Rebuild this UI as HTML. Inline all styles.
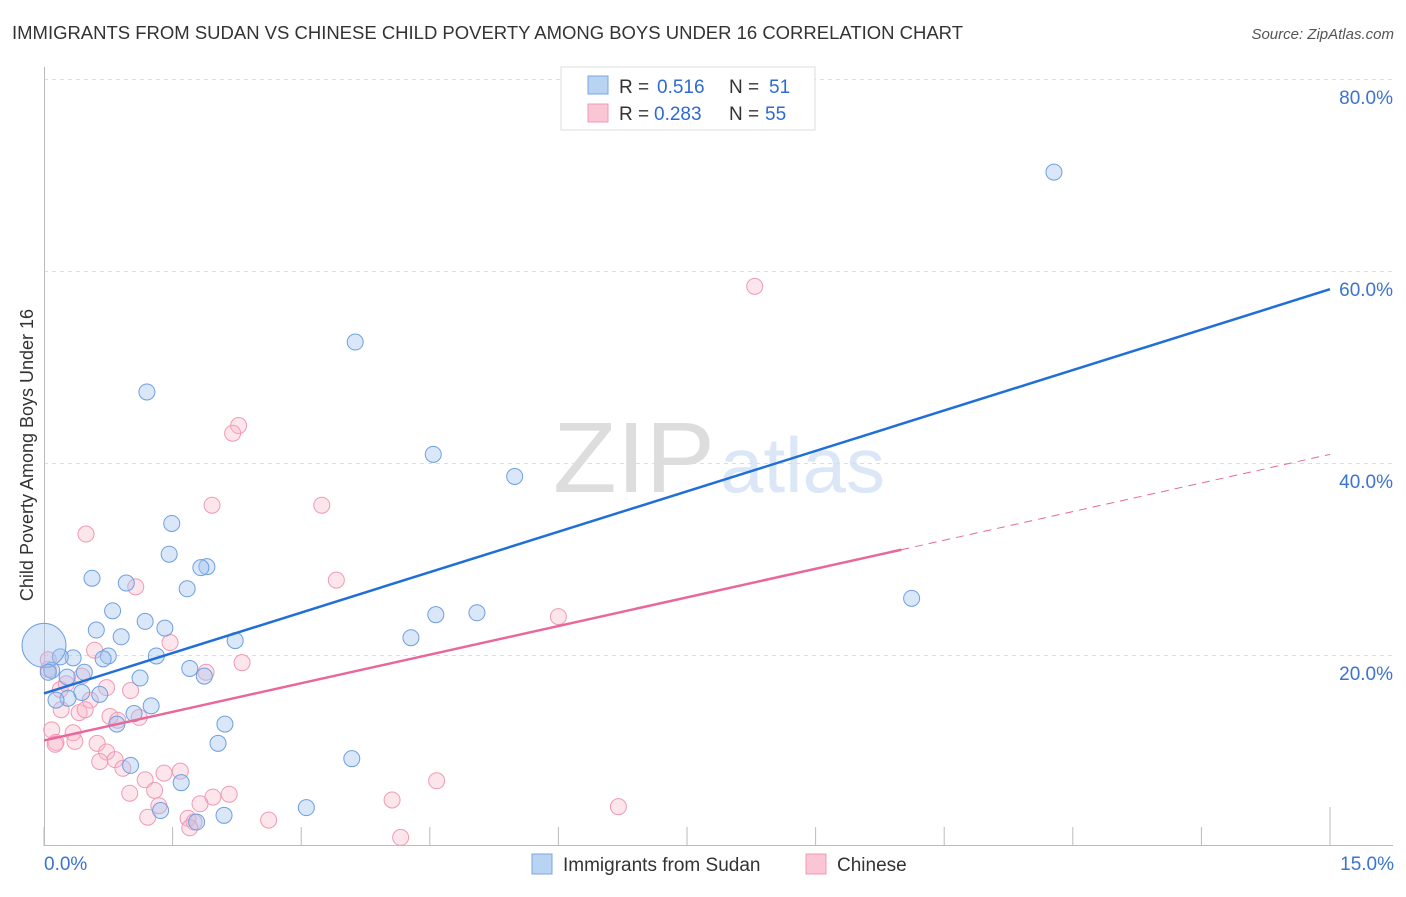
<!DOCTYPE html>
<html><head><meta charset="utf-8"><style>
body{margin:0;background:#fff;font-family:"Liberation Sans",sans-serif}
svg text{font-family:"Liberation Sans",sans-serif}
</style></head><body>
<svg id="chart" width="1406" height="892" xmlns="http://www.w3.org/2000/svg">
<text x="12" y="39" font-size="18" fill="#333" textLength="951" lengthAdjust="spacingAndGlyphs">IMMIGRANTS FROM SUDAN VS CHINESE CHILD POVERTY AMONG BOYS UNDER 16 CORRELATION CHART</text>
<text x="1394" y="39" font-size="15" fill="#555" font-style="italic" text-anchor="end">Source: ZipAtlas.com</text>
<text x="553" y="492" font-size="100" fill="#ddd" font-family="Liberation Serif" textLength="162" lengthAdjust="spacingAndGlyphs">ZIP</text>
<text x="720" y="492" font-size="78" fill="#dbe7f6" textLength="165" lengthAdjust="spacingAndGlyphs">atlas</text>
<text transform="translate(33,455) rotate(-90)" font-size="18" fill="#333" text-anchor="middle">Child Poverty Among Boys Under 16</text>
<g id="grid"></g><g id="pts"></g><g id="lines"></g>
<g>
<rect x="561" y="67" width="254" height="63" fill="#fff" stroke="#ddd"/>
<rect x="588" y="76" width="20" height="18" fill="#b9d3f3" stroke="#7aa6e0"/>
<rect x="588" y="104" width="20" height="18" fill="#fac5d5" stroke="#f09ab5"/>
<text y="93" font-size="19" fill="#333"><tspan x="619">R =</tspan><tspan x="657" fill="#2d6bd0">0.516</tspan><tspan x="729">N =</tspan><tspan x="769" fill="#2d6bd0">51</tspan></text>
<text y="120" font-size="19" fill="#333"><tspan x="619">R =</tspan><tspan x="654" fill="#2d6bd0">0.283</tspan><tspan x="729">N =</tspan><tspan x="765" fill="#2d6bd0">55</tspan></text>
</g>
<g>
<rect x="532" y="854" width="20" height="20" fill="#b9d3f3" stroke="#7aa6e0"/>
<text x="563" y="871" font-size="19" fill="#333">Immigrants from Sudan</text>
<rect x="806" y="854" width="20" height="20" fill="#fac5d5" stroke="#f09ab5"/>
<text x="837" y="871" font-size="19" fill="#333">Chinese</text>
</g>
<text x="44" y="870" font-size="19" fill="#3a73d0">0.0%</text>
<text x="1394" y="870" font-size="19" fill="#3a73d0" text-anchor="end">15.0%</text>
</svg>
<script>
const blueX=[1.20,3.63,4.54,5.49,1.49,1.46,0.56,0.96,1.90,1.83,1.67,0.80,1.18,1.41,0.61,0.90,2.23,4.28,4.57,5.05,10.12,11.78,1.31,0.75,0.69,0.34,0.19,1.70,1.12,0.47,0.27,0.09,1.87,0.44,0.65,0.28,0.14,1.25,1.05,0.85,2.11,2.03,1.01,3.59,1.60,3.06,2.10,1.36,1.78,0.0,0.05];
const blueY=[47.4,52.6,40.9,38.6,33.7,30.5,28.0,27.5,29.2,29.1,26.9,24.6,23.5,22.8,22.6,21.9,21.5,21.8,24.2,24.4,25.9,70.3,19.9,19.9,19.6,19.7,19.8,18.6,17.6,18.2,17.7,18.4,17.8,16.1,15.9,15.5,15.3,14.7,13.9,12.8,12.8,10.8,8.5,9.2,6.7,4.1,3.3,3.8,2.6,21.0,18.2];
const pinkX=[8.29,2.27,2.20,1.96,3.24,0.49,3.41,1.07,1.47,0.59,2.31,1.89,0.44,0.73,1.01,0.19,0.54,0.20,0.41,0.77,1.11,0.86,6.00,0.05,0.09,0.34,0.14,0.36,0.62,0.13,0.73,0.83,0.65,0.92,1.40,1.59,1.18,1.29,1.00,4.58,4.06,2.16,1.97,1.82,1.34,6.70,1.21,1.68,1.75,1.70,2.62,4.16,0.05,0.26,0.48];
const pinkY=[58.4,43.9,43.1,35.6,35.6,32.6,27.8,27.1,21.3,20.5,19.2,18.2,17.8,16.6,16.3,16.4,15.3,14.3,14.0,13.6,13.5,13.2,24.0,18.5,12.2,11.9,10.9,11.0,10.8,10.7,9.9,9.1,8.9,8.2,7.7,7.9,7.0,5.9,5.6,6.9,4.9,5.5,5.2,4.5,4.3,4.2,3.1,3.0,2.6,2.0,2.8,1.0,19.5,17.0,14.3];
const yTicks=[20,40,60,80];
const yTickLabels=["20.0%","40.0%","60.0%","80.0%"];
const xTicks=[0,1.5,3,4.5,6,7.5,9,10.5,12,13.5,15];
const blueTrend=[16.0,58.1];
const pinkTrend=[11.1,40.9];
const pinkSolidEnd=10.0;
const NS="http://www.w3.org/2000/svg";
const X=v=>44+v/15*1286, Y=v=>847-v*9.6;
function mk(p,t,a){const e=document.createElementNS(NS,t);for(const k in a)e.setAttribute(k,a[k]);p.appendChild(e);return e;}
const grid=document.getElementById('grid');
yTicks.forEach((t,i)=>{
 const l=mk(grid,'line',{x1:44,x2:1393,y1:Y(t)+0.5,y2:Y(t)+0.5,stroke:'#ddd','stroke-dasharray':'4,4'});
 
 
 const tx=mk(grid,'text',{x:1393,y:Y(t)+25,'font-size':19,fill:'#3a73d0','text-anchor':'end'});
 tx.textContent=yTickLabels[i];
 
 
});
const ax=mk(grid,'line',{x1:44,x2:1393,y1:845.5,y2:845.5,stroke:'#bbb'});


const ay=mk(grid,'line',{x1:44.5,x2:44.5,y1:67,y2:846,stroke:'#bbb'});


xTicks.forEach((t,i)=>{
 const l=mk(grid,'line',{x1:X(t),x2:X(t),y1:i==xTicks.length-1?807:827,y2:846,stroke:'#bbb'});
 
 
});
const pts=document.getElementById('pts');
pinkX.forEach((x,i)=>{
 const c=mk(pts,'circle',{cx:X(x),cy:Y(pinkY[i]),r:8,fill:'rgba(248,180,200,0.35)',stroke:'#f09ab5','stroke-width':1});
 
 
});
blueX.forEach((x,i)=>{
 const c=mk(pts,'circle',{cx:X(x),cy:Y(blueY[i]),r:i==49?22:8,fill:'rgba(160,196,240,0.4)',stroke:'#6f9fe0','stroke-width':1});
 
 
});
const lines=document.getElementById('lines');
const bl=mk(lines,'line',{x1:X(0),y1:Y(blueTrend[0]),x2:X(15),y2:Y(blueTrend[1]),stroke:'#1f6fd6','stroke-width':2.5});


const pm=pinkTrend[0]+(pinkTrend[1]-pinkTrend[0])*pinkSolidEnd/15;
const pl=mk(lines,'line',{x1:X(0),y1:Y(pinkTrend[0]),x2:X(pinkSolidEnd),y2:Y(pm),stroke:'#e8689a','stroke-width':2.5});


const pd=mk(lines,'line',{x1:X(pinkSolidEnd),y1:Y(pm),x2:X(15),y2:Y(pinkTrend[1]),stroke:'#e8689a','stroke-width':1,'stroke-dasharray':'8,6'});


</script>
</body></html>
